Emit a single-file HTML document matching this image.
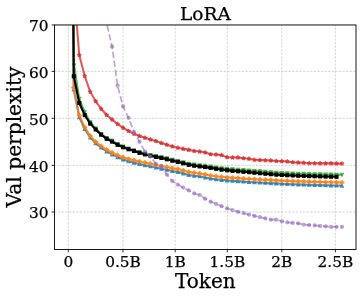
<!DOCTYPE html><html><head><meta charset="utf-8"><title>LoRA</title><style>html,body{margin:0;padding:0;background:#fff}body{width:362px;height:299px;overflow:hidden}</style></head><body><svg width="362" height="299" viewBox="0 0 362 299" style="display:block;will-change:transform">
<rect width="362" height="299" fill="#fff"/>
<defs><clipPath id="c"><rect x="54.50" y="24.95" width="301.50" height="224.50"/></clipPath></defs>
<g stroke="#b0b0b0" stroke-width="1" stroke-dasharray="2.3 1.3" stroke-opacity="0.5" fill="none" clip-path="url(#c)"><path d="M68.30 249.45V24.95"/><path d="M123.00 249.45V24.95"/><path d="M175.20 249.45V24.95"/><path d="M227.35 249.45V24.95"/><path d="M281.80 249.45V24.95"/><path d="M335.40 249.45V24.95"/><path d="M54.50 24.95H356.00"/><path d="M54.50 71.40H356.00"/><path d="M54.50 118.30H356.00"/><path d="M54.50 165.35H356.00"/><path d="M54.50 211.95H356.00"/></g>
<g clip-path="url(#c)" fill="none" stroke-linejoin="round">
<path d="M68.30 -400.00 L73.77 89.40 L79.25 117.30 L84.72 128.90 L90.20 137.40 L95.67 143.30 L101.14 147.50 L106.62 151.41 L112.09 154.40 L117.57 157.16 L123.04 159.40 L128.51 161.22 L133.99 162.63 L139.46 163.90 L144.94 165.16 L150.41 166.32 L155.88 167.48 L161.36 168.83 L166.83 169.78 L172.31 170.92 L177.78 171.87 L183.25 173.37 L188.73 174.92 L194.20 175.70 L199.68 176.33 L205.15 177.50 L210.62 178.44 L216.10 179.22 L221.57 179.86 L227.05 180.37 L232.52 180.77 L237.99 181.15 L243.47 181.58 L248.94 182.00 L254.42 182.30 L259.89 182.55 L265.36 182.83 L270.84 183.13 L276.31 183.42 L281.79 183.70 L287.26 183.97 L292.73 184.21 L298.21 184.42 L303.68 184.59 L309.16 184.76 L314.63 184.92 L320.10 185.08 L325.58 185.23 L331.05 185.38 L336.53 185.52 L342.00 185.65" stroke="#1f77b4" stroke-width="2.10" stroke-opacity="0.8"/>
<g fill="#1f77b4" stroke="#1f77b4" stroke-width="1.05" stroke-linejoin="miter" opacity="0.8"><path d="M72.27 90.90L75.27 90.90L73.77 87.90Z"/><path d="M77.75 118.80L80.75 118.80L79.25 115.80Z"/><path d="M83.22 130.40L86.22 130.40L84.72 127.40Z"/><path d="M88.70 138.90L91.70 138.90L90.20 135.90Z"/><path d="M94.17 144.80L97.17 144.80L95.67 141.80Z"/><path d="M99.64 149.00L102.64 149.00L101.14 146.00Z"/><path d="M105.12 152.91L108.12 152.91L106.62 149.91Z"/><path d="M110.59 155.90L113.59 155.90L112.09 152.90Z"/><path d="M116.07 158.66L119.07 158.66L117.57 155.66Z"/><path d="M121.54 160.90L124.54 160.90L123.04 157.90Z"/><path d="M127.01 162.72L130.01 162.72L128.51 159.72Z"/><path d="M132.49 164.13L135.49 164.13L133.99 161.13Z"/><path d="M137.96 165.40L140.96 165.40L139.46 162.40Z"/><path d="M143.44 166.66L146.44 166.66L144.94 163.66Z"/><path d="M148.91 167.82L151.91 167.82L150.41 164.82Z"/><path d="M154.38 168.98L157.38 168.98L155.88 165.98Z"/><path d="M159.86 170.33L162.86 170.33L161.36 167.33Z"/><path d="M165.33 171.28L168.33 171.28L166.83 168.28Z"/><path d="M170.81 172.42L173.81 172.42L172.31 169.42Z"/><path d="M176.28 173.37L179.28 173.37L177.78 170.37Z"/><path d="M181.75 174.87L184.75 174.87L183.25 171.87Z"/><path d="M187.23 176.42L190.23 176.42L188.73 173.42Z"/><path d="M192.70 177.20L195.70 177.20L194.20 174.20Z"/><path d="M198.18 177.83L201.18 177.83L199.68 174.83Z"/><path d="M203.65 179.00L206.65 179.00L205.15 176.00Z"/><path d="M209.12 179.94L212.12 179.94L210.62 176.94Z"/><path d="M214.60 180.72L217.60 180.72L216.10 177.72Z"/><path d="M220.07 181.36L223.07 181.36L221.57 178.36Z"/><path d="M225.55 181.87L228.55 181.87L227.05 178.87Z"/><path d="M231.02 182.27L234.02 182.27L232.52 179.27Z"/><path d="M236.49 182.65L239.49 182.65L237.99 179.65Z"/><path d="M241.97 183.08L244.97 183.08L243.47 180.08Z"/><path d="M247.44 183.50L250.44 183.50L248.94 180.50Z"/><path d="M252.92 183.80L255.92 183.80L254.42 180.80Z"/><path d="M258.39 184.05L261.39 184.05L259.89 181.05Z"/><path d="M263.86 184.33L266.86 184.33L265.36 181.33Z"/><path d="M269.34 184.63L272.34 184.63L270.84 181.63Z"/><path d="M274.81 184.92L277.81 184.92L276.31 181.92Z"/><path d="M280.29 185.20L283.29 185.20L281.79 182.20Z"/><path d="M285.76 185.47L288.76 185.47L287.26 182.47Z"/><path d="M291.23 185.71L294.23 185.71L292.73 182.71Z"/><path d="M296.71 185.92L299.71 185.92L298.21 182.92Z"/><path d="M302.18 186.09L305.18 186.09L303.68 183.09Z"/><path d="M307.66 186.26L310.66 186.26L309.16 183.26Z"/><path d="M313.13 186.42L316.13 186.42L314.63 183.42Z"/><path d="M318.60 186.58L321.60 186.58L320.10 183.58Z"/><path d="M324.08 186.73L327.08 186.73L325.58 183.73Z"/><path d="M329.55 186.88L332.55 186.88L331.05 183.88Z"/><path d="M335.03 187.02L338.03 187.02L336.53 184.02Z"/><path d="M340.50 187.15L343.50 187.15L342.00 184.15Z"/></g>
<path d="M68.30 -400.00 L73.77 87.60 L79.25 115.50 L84.72 127.30 L90.20 135.90 L95.67 141.80 L101.14 146.00 L106.62 149.80 L112.09 152.60 L117.57 155.20 L123.04 157.30 L128.51 159.00 L133.99 160.31 L139.46 161.50 L144.94 162.70 L150.41 163.80 L155.88 164.90 L161.36 166.20 L166.83 167.10 L172.31 168.20 L177.78 169.10 L183.25 170.57 L188.73 172.09 L194.20 172.84 L199.68 173.45 L205.15 174.60 L210.62 175.52 L216.10 176.29 L221.57 176.92 L227.05 177.41 L232.52 177.80 L237.99 178.17 L243.47 178.59 L248.94 179.00 L254.42 179.29 L259.89 179.53 L265.36 179.80 L270.84 180.09 L276.31 180.37 L281.79 180.64 L287.26 180.90 L292.73 181.14 L298.21 181.34 L303.68 181.51 L309.16 181.67 L314.63 181.83 L320.10 181.99 L325.58 182.14 L331.05 182.28 L336.53 182.42 L342.00 182.55" stroke="#ff7f0e" stroke-width="2.10" stroke-opacity="0.8"/>
<g fill="#ff7f0e" stroke="#ff7f0e" stroke-width="1.05" stroke-linejoin="miter" opacity="0.8"><path d="M73.77 85.48L75.89 87.60L73.77 89.72L71.65 87.60Z"/><path d="M79.25 113.38L81.37 115.50L79.25 117.62L77.13 115.50Z"/><path d="M84.72 125.18L86.84 127.30L84.72 129.42L82.60 127.30Z"/><path d="M90.20 133.78L92.32 135.90L90.20 138.02L88.08 135.90Z"/><path d="M95.67 139.68L97.79 141.80L95.67 143.92L93.55 141.80Z"/><path d="M101.14 143.88L103.27 146.00L101.14 148.12L99.02 146.00Z"/><path d="M106.62 147.68L108.74 149.80L106.62 151.92L104.50 149.80Z"/><path d="M112.09 150.48L114.21 152.60L112.09 154.72L109.97 152.60Z"/><path d="M117.57 153.08L119.69 155.20L117.57 157.32L115.45 155.20Z"/><path d="M123.04 155.18L125.16 157.30L123.04 159.42L120.92 157.30Z"/><path d="M128.51 156.88L130.64 159.00L128.51 161.12L126.39 159.00Z"/><path d="M133.99 158.19L136.11 160.31L133.99 162.43L131.87 160.31Z"/><path d="M139.46 159.38L141.58 161.50L139.46 163.62L137.34 161.50Z"/><path d="M144.94 160.58L147.06 162.70L144.94 164.82L142.81 162.70Z"/><path d="M150.41 161.68L152.53 163.80L150.41 165.92L148.29 163.80Z"/><path d="M155.88 162.78L158.01 164.90L155.88 167.02L153.76 164.90Z"/><path d="M161.36 164.08L163.48 166.20L161.36 168.32L159.24 166.20Z"/><path d="M166.83 164.98L168.95 167.10L166.83 169.22L164.71 167.10Z"/><path d="M172.31 166.08L174.43 168.20L172.31 170.32L170.18 168.20Z"/><path d="M177.78 166.98L179.90 169.10L177.78 171.22L175.66 169.10Z"/><path d="M183.25 168.45L185.38 170.57L183.25 172.69L181.13 170.57Z"/><path d="M188.73 169.96L190.85 172.09L188.73 174.21L186.61 172.09Z"/><path d="M194.20 170.72L196.32 172.84L194.20 174.96L192.08 172.84Z"/><path d="M199.68 171.33L201.80 173.45L199.68 175.57L197.55 173.45Z"/><path d="M205.15 172.48L207.27 174.60L205.15 176.72L203.03 174.60Z"/><path d="M210.62 173.40L212.75 175.52L210.62 177.65L208.50 175.52Z"/><path d="M216.10 174.17L218.22 176.29L216.10 178.41L213.98 176.29Z"/><path d="M221.57 174.80L223.69 176.92L221.57 179.04L219.45 176.92Z"/><path d="M227.05 175.29L229.17 177.41L227.05 179.53L224.92 177.41Z"/><path d="M232.52 175.68L234.64 177.80L232.52 179.93L230.40 177.80Z"/><path d="M237.99 176.05L240.12 178.17L237.99 180.29L235.87 178.17Z"/><path d="M243.47 176.47L245.59 178.59L243.47 180.71L241.35 178.59Z"/><path d="M248.94 176.88L251.06 179.00L248.94 181.12L246.82 179.00Z"/><path d="M254.42 177.17L256.54 179.29L254.42 181.41L252.29 179.29Z"/><path d="M259.89 177.41L262.01 179.53L259.89 181.65L257.77 179.53Z"/><path d="M265.36 177.68L267.49 179.80L265.36 181.92L263.24 179.80Z"/><path d="M270.84 177.96L272.96 180.09L270.84 182.21L268.72 180.09Z"/><path d="M276.31 178.25L278.43 180.37L276.31 182.49L274.19 180.37Z"/><path d="M281.79 178.52L283.91 180.64L281.79 182.76L279.67 180.64Z"/><path d="M287.26 178.78L289.38 180.90L287.26 183.02L285.14 180.90Z"/><path d="M292.73 179.02L294.85 181.14L292.73 183.26L290.61 181.14Z"/><path d="M298.21 179.22L300.33 181.34L298.21 183.46L296.09 181.34Z"/><path d="M303.68 179.39L305.80 181.51L303.68 183.63L301.56 181.51Z"/><path d="M309.16 179.55L311.28 181.67L309.16 183.79L307.04 181.67Z"/><path d="M314.63 179.71L316.75 181.83L314.63 183.95L312.51 181.83Z"/><path d="M320.10 179.86L322.22 181.99L320.10 184.11L317.98 181.99Z"/><path d="M325.58 180.01L327.70 182.14L325.58 184.26L323.46 182.14Z"/><path d="M331.05 180.16L333.17 182.28L331.05 184.40L328.93 182.28Z"/><path d="M336.53 180.30L338.65 182.42L336.53 184.54L334.41 182.42Z"/><path d="M342.00 180.43L344.12 182.55L342.00 184.67L339.88 182.55Z"/></g>
<path d="M68.60 -600.00 L74.07 65.50 L79.25 98.80 L84.72 112.20 L90.20 122.30 L95.67 128.60 L101.14 133.90 L106.62 138.00 L112.09 140.80 L117.57 144.00 L123.04 146.50 L128.51 148.50 L133.99 150.19 L139.46 151.97 L144.94 153.56 L150.41 154.94 L155.88 156.01 L161.36 157.09 L166.83 158.36 L172.31 159.73 L177.78 160.90 L183.25 162.33 L188.73 163.70 L194.20 164.60 L199.68 165.29 L205.15 165.89 L210.62 166.61 L216.10 167.48 L221.57 168.28 L227.05 168.86 L232.52 169.33 L237.99 169.75 L243.47 170.14 L248.94 170.50 L254.42 170.92 L259.89 171.37 L265.36 171.81 L270.84 172.26 L276.31 172.66 L281.79 172.98 L287.26 173.23 L292.73 173.45 L298.21 173.68 L303.68 173.89 L309.16 174.06 L314.63 174.21 L320.10 174.34 L325.58 174.47 L331.05 174.59 L336.53 174.70 L342.00 174.80" stroke="#2ca02c" stroke-width="2.10" stroke-opacity="0.8"/>
<g fill="#2ca02c" stroke="#2ca02c" stroke-width="1.05" stroke-linejoin="miter" opacity="0.8"><path d="M72.57 64.00L75.57 64.00L74.07 67.00Z"/><path d="M77.75 97.30L80.75 97.30L79.25 100.30Z"/><path d="M83.22 110.70L86.22 110.70L84.72 113.70Z"/><path d="M88.70 120.80L91.70 120.80L90.20 123.80Z"/><path d="M94.17 127.10L97.17 127.10L95.67 130.10Z"/><path d="M99.64 132.40L102.64 132.40L101.14 135.40Z"/><path d="M105.12 136.50L108.12 136.50L106.62 139.50Z"/><path d="M110.59 139.30L113.59 139.30L112.09 142.30Z"/><path d="M116.07 142.50L119.07 142.50L117.57 145.50Z"/><path d="M121.54 145.00L124.54 145.00L123.04 148.00Z"/><path d="M127.01 147.00L130.01 147.00L128.51 150.00Z"/><path d="M132.49 148.69L135.49 148.69L133.99 151.69Z"/><path d="M137.96 150.47L140.96 150.47L139.46 153.47Z"/><path d="M143.44 152.06L146.44 152.06L144.94 155.06Z"/><path d="M148.91 153.44L151.91 153.44L150.41 156.44Z"/><path d="M154.38 154.51L157.38 154.51L155.88 157.51Z"/><path d="M159.86 155.59L162.86 155.59L161.36 158.59Z"/><path d="M165.33 156.86L168.33 156.86L166.83 159.86Z"/><path d="M170.81 158.23L173.81 158.23L172.31 161.23Z"/><path d="M176.28 159.40L179.28 159.40L177.78 162.40Z"/><path d="M181.75 160.83L184.75 160.83L183.25 163.83Z"/><path d="M187.23 162.20L190.23 162.20L188.73 165.20Z"/><path d="M192.70 163.10L195.70 163.10L194.20 166.10Z"/><path d="M198.18 163.79L201.18 163.79L199.68 166.79Z"/><path d="M203.65 164.39L206.65 164.39L205.15 167.39Z"/><path d="M209.12 165.11L212.12 165.11L210.62 168.11Z"/><path d="M214.60 165.98L217.60 165.98L216.10 168.98Z"/><path d="M220.07 166.78L223.07 166.78L221.57 169.78Z"/><path d="M225.55 167.36L228.55 167.36L227.05 170.36Z"/><path d="M231.02 167.83L234.02 167.83L232.52 170.83Z"/><path d="M236.49 168.25L239.49 168.25L237.99 171.25Z"/><path d="M241.97 168.64L244.97 168.64L243.47 171.64Z"/><path d="M247.44 169.00L250.44 169.00L248.94 172.00Z"/><path d="M252.92 169.42L255.92 169.42L254.42 172.42Z"/><path d="M258.39 169.87L261.39 169.87L259.89 172.87Z"/><path d="M263.86 170.31L266.86 170.31L265.36 173.31Z"/><path d="M269.34 170.76L272.34 170.76L270.84 173.76Z"/><path d="M274.81 171.16L277.81 171.16L276.31 174.16Z"/><path d="M280.29 171.48L283.29 171.48L281.79 174.48Z"/><path d="M285.76 171.73L288.76 171.73L287.26 174.73Z"/><path d="M291.23 171.95L294.23 171.95L292.73 174.95Z"/><path d="M296.71 172.18L299.71 172.18L298.21 175.18Z"/><path d="M302.18 172.39L305.18 172.39L303.68 175.39Z"/><path d="M307.66 172.56L310.66 172.56L309.16 175.56Z"/><path d="M313.13 172.71L316.13 172.71L314.63 175.71Z"/><path d="M318.60 172.84L321.60 172.84L320.10 175.84Z"/><path d="M324.08 172.97L327.08 172.97L325.58 175.97Z"/><path d="M329.55 173.09L332.55 173.09L331.05 176.09Z"/><path d="M335.03 173.20L338.03 173.20L336.53 176.20Z"/><path d="M340.50 173.30L343.50 173.30L342.00 176.30Z"/></g>
<path d="M68.30 -600.00 L73.77 76.30 L79.25 103.00 L84.72 115.10 L90.20 123.60 L95.67 129.50 L101.14 134.70 L106.62 138.80 L112.09 141.60 L117.57 144.80 L123.04 147.30 L128.51 149.30 L133.99 151.00 L139.46 152.80 L144.94 154.40 L150.41 155.80 L155.88 156.90 L161.36 158.00 L166.83 159.30 L172.31 160.70 L177.78 161.90 L183.25 163.36 L188.73 164.77 L194.20 165.71 L199.68 166.46 L205.15 167.11 L210.62 167.88 L216.10 168.81 L221.57 169.67 L227.05 170.30 L232.52 170.83 L237.99 171.31 L243.47 171.77 L248.94 172.21 L254.42 172.71 L259.89 173.23 L265.36 173.73 L270.84 174.23 L276.31 174.66 L281.79 174.99 L287.26 175.26 L292.73 175.49 L298.21 175.73 L303.68 175.95 L309.16 176.13 L314.63 176.29 L320.10 176.43 L325.58 176.56 L331.05 176.69 L336.53 176.80" stroke="#000" stroke-width="2.10" />
<g fill="#000" stroke="#000" stroke-width="1.05" stroke-linejoin="miter" ><rect x="72.27" y="74.80" width="3.00" height="3.00"/><rect x="77.75" y="101.50" width="3.00" height="3.00"/><rect x="83.22" y="113.60" width="3.00" height="3.00"/><rect x="88.70" y="122.10" width="3.00" height="3.00"/><rect x="94.17" y="128.00" width="3.00" height="3.00"/><rect x="99.64" y="133.20" width="3.00" height="3.00"/><rect x="105.12" y="137.30" width="3.00" height="3.00"/><rect x="110.59" y="140.10" width="3.00" height="3.00"/><rect x="116.07" y="143.30" width="3.00" height="3.00"/><rect x="121.54" y="145.80" width="3.00" height="3.00"/><rect x="127.01" y="147.80" width="3.00" height="3.00"/><rect x="132.49" y="149.50" width="3.00" height="3.00"/><rect x="137.96" y="151.30" width="3.00" height="3.00"/><rect x="143.44" y="152.90" width="3.00" height="3.00"/><rect x="148.91" y="154.30" width="3.00" height="3.00"/><rect x="154.38" y="155.40" width="3.00" height="3.00"/><rect x="159.86" y="156.50" width="3.00" height="3.00"/><rect x="165.33" y="157.80" width="3.00" height="3.00"/><rect x="170.81" y="159.20" width="3.00" height="3.00"/><rect x="176.28" y="160.40" width="3.00" height="3.00"/><rect x="181.75" y="161.86" width="3.00" height="3.00"/><rect x="187.23" y="163.27" width="3.00" height="3.00"/><rect x="192.70" y="164.21" width="3.00" height="3.00"/><rect x="198.18" y="164.96" width="3.00" height="3.00"/><rect x="203.65" y="165.61" width="3.00" height="3.00"/><rect x="209.12" y="166.38" width="3.00" height="3.00"/><rect x="214.60" y="167.31" width="3.00" height="3.00"/><rect x="220.07" y="168.17" width="3.00" height="3.00"/><rect x="225.55" y="168.80" width="3.00" height="3.00"/><rect x="231.02" y="169.33" width="3.00" height="3.00"/><rect x="236.49" y="169.81" width="3.00" height="3.00"/><rect x="241.97" y="170.27" width="3.00" height="3.00"/><rect x="247.44" y="170.71" width="3.00" height="3.00"/><rect x="252.92" y="171.21" width="3.00" height="3.00"/><rect x="258.39" y="171.73" width="3.00" height="3.00"/><rect x="263.86" y="172.23" width="3.00" height="3.00"/><rect x="269.34" y="172.73" width="3.00" height="3.00"/><rect x="274.81" y="173.16" width="3.00" height="3.00"/><rect x="280.29" y="173.49" width="3.00" height="3.00"/><rect x="285.76" y="173.76" width="3.00" height="3.00"/><rect x="291.23" y="173.99" width="3.00" height="3.00"/><rect x="296.71" y="174.23" width="3.00" height="3.00"/><rect x="302.18" y="174.45" width="3.00" height="3.00"/><rect x="307.66" y="174.63" width="3.00" height="3.00"/><rect x="313.13" y="174.79" width="3.00" height="3.00"/><rect x="318.60" y="174.93" width="3.00" height="3.00"/><rect x="324.08" y="175.06" width="3.00" height="3.00"/><rect x="329.55" y="175.19" width="3.00" height="3.00"/><rect x="335.03" y="175.30" width="3.00" height="3.00"/></g>
<g opacity="0.75"><path d="M68.30 -600.00 L73.77 -12.00 L79.25 55.00 L84.72 76.00 L90.20 91.80 L95.67 101.20 L101.14 108.80 L106.62 115.00 L112.09 119.60 L117.57 124.00 L123.04 127.70 L128.51 131.00 L133.99 133.80 L139.46 136.00 L144.94 137.80 L150.41 139.60 L155.88 141.10 L161.36 143.10 L166.83 144.70 L172.31 146.40 L177.78 147.80 L183.25 148.90 L188.73 149.90 L194.20 151.00 L199.68 151.55 L205.15 152.55 L210.62 154.20 L216.10 154.55 L221.57 155.10 L227.05 157.30 L232.52 157.50 L237.99 157.60 L243.47 158.20 L248.94 158.70 L254.42 159.80 L259.89 160.10 L265.36 160.30 L270.84 160.60 L276.31 160.95 L281.79 161.20 L287.26 161.50 L292.73 162.30 L298.21 162.60 L303.68 162.80 L309.16 163.20 L314.63 163.20 L320.10 163.40 L325.58 163.40 L331.05 163.40 L336.53 163.60 L342.00 163.60" stroke="#d62728" stroke-width="2.10" /></g><g fill="#d62728" stroke="#d62728" stroke-width="1.30" stroke-linejoin="bevel" opacity="0.75"><path d="M79.25 52.90L79.72 54.35L81.25 54.35L80.01 55.25L80.48 56.70L79.25 55.80L78.01 56.70L78.49 55.25L77.25 54.35L78.78 54.35Z"/><path d="M84.72 73.90L85.19 75.35L86.72 75.35L85.48 76.25L85.96 77.70L84.72 76.80L83.49 77.70L83.96 76.25L82.72 75.35L84.25 75.35Z"/><path d="M90.20 89.70L90.67 91.15L92.19 91.15L90.96 92.05L91.43 93.50L90.20 92.60L88.96 93.50L89.43 92.05L88.20 91.15L89.72 91.15Z"/><path d="M95.67 99.10L96.14 100.55L97.67 100.55L96.43 101.45L96.90 102.90L95.67 102.00L94.44 102.90L94.91 101.45L93.67 100.55L95.20 100.55Z"/><path d="M101.14 106.70L101.62 108.15L103.14 108.15L101.91 109.05L102.38 110.50L101.14 109.60L99.91 110.50L100.38 109.05L99.15 108.15L100.67 108.15Z"/><path d="M106.62 112.90L107.09 114.35L108.62 114.35L107.38 115.25L107.85 116.70L106.62 115.80L105.38 116.70L105.86 115.25L104.62 114.35L106.15 114.35Z"/><path d="M112.09 117.50L112.56 118.95L114.09 118.95L112.85 119.85L113.33 121.30L112.09 120.40L110.86 121.30L111.33 119.85L110.09 118.95L111.62 118.95Z"/><path d="M117.57 121.90L118.04 123.35L119.56 123.35L118.33 124.25L118.80 125.70L117.57 124.80L116.33 125.70L116.80 124.25L115.57 123.35L117.09 123.35Z"/><path d="M123.04 125.60L123.51 127.05L125.04 127.05L123.80 127.95L124.27 129.40L123.04 128.50L121.81 129.40L122.28 127.95L121.04 127.05L122.57 127.05Z"/><path d="M128.51 128.90L128.99 130.35L130.51 130.35L129.28 131.25L129.75 132.70L128.51 131.80L127.28 132.70L127.75 131.25L126.52 130.35L128.04 130.35Z"/><path d="M133.99 131.70L134.46 133.15L135.99 133.15L134.75 134.05L135.22 135.50L133.99 134.60L132.75 135.50L133.23 134.05L131.99 133.15L133.52 133.15Z"/><path d="M139.46 133.90L139.93 135.35L141.46 135.35L140.22 136.25L140.70 137.70L139.46 136.80L138.23 137.70L138.70 136.25L137.46 135.35L138.99 135.35Z"/><path d="M144.94 135.70L145.41 137.15L146.93 137.15L145.70 138.05L146.17 139.50L144.94 138.60L143.70 139.50L144.17 138.05L142.94 137.15L144.46 137.15Z"/><path d="M150.41 137.50L150.88 138.95L152.41 138.95L151.17 139.85L151.64 141.30L150.41 140.40L149.18 141.30L149.65 139.85L148.41 138.95L149.94 138.95Z"/><path d="M155.88 139.00L156.36 140.45L157.88 140.45L156.65 141.35L157.12 142.80L155.88 141.90L154.65 142.80L155.12 141.35L153.89 140.45L155.41 140.45Z"/><path d="M161.36 141.00L161.83 142.45L163.36 142.45L162.12 143.35L162.59 144.80L161.36 143.90L160.12 144.80L160.60 143.35L159.36 142.45L160.89 142.45Z"/><path d="M166.83 142.60L167.30 144.05L168.83 144.05L167.59 144.95L168.07 146.40L166.83 145.50L165.60 146.40L166.07 144.95L164.83 144.05L166.36 144.05Z"/><path d="M172.31 144.30L172.78 145.75L174.30 145.75L173.07 146.65L173.54 148.10L172.31 147.20L171.07 148.10L171.54 146.65L170.31 145.75L171.83 145.75Z"/><path d="M177.78 145.70L178.25 147.15L179.78 147.15L178.54 148.05L179.01 149.50L177.78 148.60L176.55 149.50L177.02 148.05L175.78 147.15L177.31 147.15Z"/><path d="M183.25 146.80L183.73 148.25L185.25 148.25L184.02 149.15L184.49 150.60L183.25 149.70L182.02 150.60L182.49 149.15L181.26 148.25L182.78 148.25Z"/><path d="M188.73 147.80L189.20 149.25L190.73 149.25L189.49 150.15L189.96 151.60L188.73 150.70L187.49 151.60L187.97 150.15L186.73 149.25L188.26 149.25Z"/><path d="M194.20 148.90L194.67 150.35L196.20 150.35L194.96 151.25L195.44 152.70L194.20 151.80L192.97 152.70L193.44 151.25L192.20 150.35L193.73 150.35Z"/><path d="M199.68 149.45L200.15 150.90L201.67 150.90L200.44 151.80L200.91 153.25L199.68 152.35L198.44 153.25L198.91 151.80L197.68 150.90L199.20 150.90Z"/><path d="M205.15 150.45L205.62 151.90L207.15 151.90L205.91 152.80L206.38 154.25L205.15 153.35L203.92 154.25L204.39 152.80L203.15 151.90L204.68 151.90Z"/><path d="M210.62 152.10L211.10 153.55L212.62 153.55L211.39 154.45L211.86 155.90L210.62 155.00L209.39 155.90L209.86 154.45L208.63 153.55L210.15 153.55Z"/><path d="M216.10 152.45L216.57 153.90L218.10 153.90L216.86 154.80L217.33 156.25L216.10 155.35L214.86 156.25L215.34 154.80L214.10 153.90L215.63 153.90Z"/><path d="M221.57 153.00L222.04 154.45L223.57 154.45L222.33 155.35L222.81 156.80L221.57 155.90L220.34 156.80L220.81 155.35L219.57 154.45L221.10 154.45Z"/><path d="M227.05 155.20L227.52 156.65L229.04 156.65L227.81 157.55L228.28 159.00L227.05 158.10L225.81 159.00L226.28 157.55L225.05 156.65L226.57 156.65Z"/><path d="M232.52 155.40L232.99 156.85L234.52 156.85L233.28 157.75L233.75 159.20L232.52 158.30L231.29 159.20L231.76 157.75L230.52 156.85L232.05 156.85Z"/><path d="M237.99 155.50L238.47 156.95L239.99 156.95L238.76 157.85L239.23 159.30L237.99 158.40L236.76 159.30L237.23 157.85L236.00 156.95L237.52 156.95Z"/><path d="M243.47 156.10L243.94 157.55L245.47 157.55L244.23 158.45L244.70 159.90L243.47 159.00L242.23 159.90L242.71 158.45L241.47 157.55L243.00 157.55Z"/><path d="M248.94 156.60L249.41 158.05L250.94 158.05L249.70 158.95L250.18 160.40L248.94 159.50L247.71 160.40L248.18 158.95L246.94 158.05L248.47 158.05Z"/><path d="M254.42 157.70L254.89 159.15L256.41 159.15L255.18 160.05L255.65 161.50L254.42 160.60L253.18 161.50L253.65 160.05L252.42 159.15L253.94 159.15Z"/><path d="M259.89 158.00L260.36 159.45L261.89 159.45L260.65 160.35L261.12 161.80L259.89 160.90L258.66 161.80L259.13 160.35L257.89 159.45L259.42 159.45Z"/><path d="M265.36 158.20L265.84 159.65L267.36 159.65L266.13 160.55L266.60 162.00L265.36 161.10L264.13 162.00L264.60 160.55L263.37 159.65L264.89 159.65Z"/><path d="M270.84 158.50L271.31 159.95L272.84 159.95L271.60 160.85L272.07 162.30L270.84 161.40L269.60 162.30L270.08 160.85L268.84 159.95L270.37 159.95Z"/><path d="M276.31 158.85L276.78 160.30L278.31 160.30L277.07 161.20L277.55 162.65L276.31 161.75L275.08 162.65L275.55 161.20L274.31 160.30L275.84 160.30Z"/><path d="M281.79 159.10L282.26 160.55L283.78 160.55L282.55 161.45L283.02 162.90L281.79 162.00L280.55 162.90L281.02 161.45L279.79 160.55L281.31 160.55Z"/><path d="M287.26 159.40L287.73 160.85L289.26 160.85L288.02 161.75L288.49 163.20L287.26 162.30L286.03 163.20L286.50 161.75L285.26 160.85L286.79 160.85Z"/><path d="M292.73 160.20L293.21 161.65L294.73 161.65L293.50 162.55L293.97 164.00L292.73 163.10L291.50 164.00L291.97 162.55L290.74 161.65L292.26 161.65Z"/><path d="M298.21 160.50L298.68 161.95L300.21 161.95L298.97 162.85L299.44 164.30L298.21 163.40L296.97 164.30L297.45 162.85L296.21 161.95L297.74 161.95Z"/><path d="M303.68 160.70L304.15 162.15L305.68 162.15L304.44 163.05L304.92 164.50L303.68 163.60L302.45 164.50L302.92 163.05L301.68 162.15L303.21 162.15Z"/><path d="M309.16 161.10L309.63 162.55L311.15 162.55L309.92 163.45L310.39 164.90L309.16 164.00L307.92 164.90L308.39 163.45L307.16 162.55L308.68 162.55Z"/><path d="M314.63 161.10L315.10 162.55L316.63 162.55L315.39 163.45L315.86 164.90L314.63 164.00L313.40 164.90L313.87 163.45L312.63 162.55L314.16 162.55Z"/><path d="M320.10 161.30L320.58 162.75L322.10 162.75L320.87 163.65L321.34 165.10L320.10 164.20L318.87 165.10L319.34 163.65L318.11 162.75L319.63 162.75Z"/><path d="M325.58 161.30L326.05 162.75L327.58 162.75L326.34 163.65L326.81 165.10L325.58 164.20L324.34 165.10L324.82 163.65L323.58 162.75L325.11 162.75Z"/><path d="M331.05 161.30L331.52 162.75L333.05 162.75L331.81 163.65L332.29 165.10L331.05 164.20L329.82 165.10L330.29 163.65L329.05 162.75L330.58 162.75Z"/><path d="M336.53 161.50L337.00 162.95L338.52 162.95L337.29 163.85L337.76 165.30L336.53 164.40L335.29 165.30L335.76 163.85L334.53 162.95L336.05 162.95Z"/><path d="M342.00 161.50L342.47 162.95L344.00 162.95L342.76 163.85L343.23 165.30L342.00 164.40L340.77 165.30L341.24 163.85L340.00 162.95L341.53 162.95Z"/></g>
<g opacity="0.6"><path d="M106.62 23.00 L112.09 46.50 L117.57 85.70 L123.04 106.40 L128.51 117.80 L133.99 131.80 L139.46 141.70 L144.94 151.60 L150.41 156.40 L155.88 163.80 L161.36 166.20 L166.83 174.60 L172.31 180.90 L177.78 184.60 L183.25 187.60 L188.73 190.40 L194.20 193.40 L199.68 195.10 L205.15 198.70 L210.62 201.60 L216.10 203.90 L221.57 206.20 L227.05 208.40 L232.52 210.10 L237.99 211.80 L243.47 213.10 L248.94 214.60 L254.42 215.90 L259.89 217.20 L265.36 218.40 L270.84 219.60 L276.31 219.70 L281.79 221.30 L287.26 222.30 L292.73 222.90 L298.21 223.40 L303.68 224.60 L309.16 225.10 L314.63 225.40 L320.10 225.90 L325.58 226.30 L331.05 226.80 L336.53 226.80 L342.00 226.80" stroke="#9467bd" stroke-width="1.7" stroke-dasharray="6.3 2.7" stroke-dashoffset="6.5"/></g>
<g fill="#9467bd" stroke="#9467bd" stroke-width="1.05" stroke-linejoin="miter" opacity="0.6"><circle cx="106.62" cy="23.00" r="1.60"/><circle cx="112.09" cy="46.50" r="1.60"/><circle cx="117.57" cy="85.70" r="1.60"/><circle cx="123.04" cy="106.40" r="1.60"/><circle cx="128.51" cy="117.80" r="1.60"/><circle cx="133.99" cy="131.80" r="1.60"/><circle cx="139.46" cy="141.70" r="1.60"/><circle cx="144.94" cy="151.60" r="1.60"/><circle cx="150.41" cy="156.40" r="1.60"/><circle cx="155.88" cy="163.80" r="1.60"/><circle cx="161.36" cy="166.20" r="1.60"/><circle cx="166.83" cy="174.60" r="1.60"/><circle cx="172.31" cy="180.90" r="1.60"/><circle cx="177.78" cy="184.60" r="1.60"/><circle cx="183.25" cy="187.60" r="1.60"/><circle cx="188.73" cy="190.40" r="1.60"/><circle cx="194.20" cy="193.40" r="1.60"/><circle cx="199.68" cy="195.10" r="1.60"/><circle cx="205.15" cy="198.70" r="1.60"/><circle cx="210.62" cy="201.60" r="1.60"/><circle cx="216.10" cy="203.90" r="1.60"/><circle cx="221.57" cy="206.20" r="1.60"/><circle cx="227.05" cy="208.40" r="1.60"/><circle cx="232.52" cy="210.10" r="1.60"/><circle cx="237.99" cy="211.80" r="1.60"/><circle cx="243.47" cy="213.10" r="1.60"/><circle cx="248.94" cy="214.60" r="1.60"/><circle cx="254.42" cy="215.90" r="1.60"/><circle cx="259.89" cy="217.20" r="1.60"/><circle cx="265.36" cy="218.40" r="1.60"/><circle cx="270.84" cy="219.60" r="1.60"/><circle cx="276.31" cy="219.70" r="1.60"/><circle cx="281.79" cy="221.30" r="1.60"/><circle cx="287.26" cy="222.30" r="1.60"/><circle cx="292.73" cy="222.90" r="1.60"/><circle cx="298.21" cy="223.40" r="1.60"/><circle cx="303.68" cy="224.60" r="1.60"/><circle cx="309.16" cy="225.10" r="1.60"/><circle cx="314.63" cy="225.40" r="1.60"/><circle cx="320.10" cy="225.90" r="1.60"/><circle cx="325.58" cy="226.30" r="1.60"/><circle cx="331.05" cy="226.80" r="1.60"/><circle cx="336.53" cy="226.80" r="1.60"/><circle cx="342.00" cy="226.80" r="1.60"/></g>
</g>
<rect x="54.50" y="24.95" width="301.50" height="224.50" fill="none" stroke="#000" stroke-width="0.9"/>
<g stroke="#000" stroke-width="0.8" fill="none"><path d="M68.30 249.45v2.9"/><path d="M123.00 249.45v2.9"/><path d="M175.20 249.45v2.9"/><path d="M227.35 249.45v2.9"/><path d="M281.80 249.45v2.9"/><path d="M335.40 249.45v2.9"/><path d="M54.50 24.95h-2.9"/><path d="M54.50 71.40h-2.9"/><path d="M54.50 118.30h-2.9"/><path d="M54.50 165.35h-2.9"/><path d="M54.50 211.95h-2.9"/></g>
<g font-family="DejaVu Serif, Liberation Serif, serif" stroke="#000" stroke-width="0.25" font-size="15.35" fill="#000"><text x="68.30" y="267.2" text-anchor="middle">0</text><text x="123.00" y="267.2" text-anchor="middle">0.5B</text><text x="175.20" y="267.2" text-anchor="middle">1B</text><text x="227.35" y="267.2" text-anchor="middle">1.5B</text><text x="281.80" y="267.2" text-anchor="middle">2B</text><text x="335.40" y="267.2" text-anchor="middle">2.5B</text><text x="48.6" y="31.45" text-anchor="end">70</text><text x="48.6" y="77.90" text-anchor="end">60</text><text x="48.6" y="124.80" text-anchor="end">50</text><text x="48.6" y="171.85" text-anchor="end">40</text><text x="48.6" y="218.45" text-anchor="end">30</text></g>
<text transform="translate(205.4 20.0) scale(1.045 1)" text-anchor="middle" font-family="DejaVu Serif, Liberation Serif, serif" stroke="#000" stroke-width="0.25" font-size="17.7" text-rendering="geometricPrecision" fill="#000">LoRA</text>
<text x="205.3" y="288" text-anchor="middle" font-family="DejaVu Serif, Liberation Serif, serif" stroke="#000" stroke-width="0.25" font-size="20" fill="#000">Token</text>
<text transform="translate(21.2 137) rotate(-90)" text-anchor="middle" font-family="DejaVu Serif, Liberation Serif, serif" stroke="#000" stroke-width="0.25" font-size="20.2" fill="#000">Val perplexity</text>
</svg></body></html>
